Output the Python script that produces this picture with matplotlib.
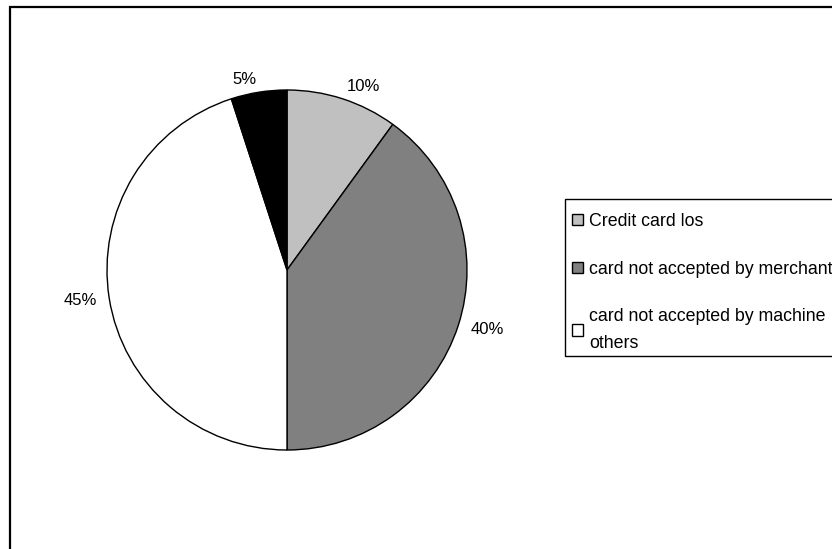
import matplotlib.pyplot as plt
from matplotlib.patches import Rectangle

plt.rcParams['font.family'] = ['Liberation Sans', 'DejaVu Sans']

# share of complaints
labels = ['Credit card los', 'card not accepted by merchant',
          'card not accepted by machine\nothers', '']
shares = [10, 40, 45, 5]
colors = ['#c0c0c0', '#808080', '#ffffff', '#000000']

W, H = 832, 549
fig = plt.figure(figsize=(W / 100, H / 100), dpi=100)

# outer chart border (runs off right/bottom edge)
fig.patches.append(Rectangle((10/W, -0.05), 1.0, 1 - 7/H + 0.05,
                             transform=fig.transFigure, fill=False,
                             edgecolor='black', linewidth=1.6))

ax = fig.add_axes([(287-180)/W, (H-270-180)/H, 360/W, 360/H])
wedges, texts, autotexts = ax.pie(
    shares, colors=colors, startangle=90, counterclock=False,
    autopct='%d%%', pctdistance=1.07, radius=1,
    wedgeprops=dict(edgecolor='black', linewidth=1.0),
    textprops=dict(fontsize=12, color='black'))
# push labels outward: left side right-aligned, right side left-aligned
for t in autotexts:
    x, y = t.get_position()
    t.set_ha('left' if x > 0 else 'right')
    t.set_va('center')
ax.set_xlim(-1, 1)
ax.set_ylim(-1, 1)
ax.set_aspect('equal')

# legend box, also running off the right edge
fig.patches.append(Rectangle((565/W, 1 - 356/H), 0.5, (356-199)/H,
                             transform=fig.transFigure, facecolor='white',
                             edgecolor='black', linewidth=1.0, zorder=0))
leg = fig.legend(wedges[:3], labels[:3], loc='upper left',
                 bbox_to_anchor=(572/W, 1 - 213/H),
                 fontsize=12.8, frameon=False,
                 handlelength=0.6, handleheight=0.6, handletextpad=0.35,
                 labelspacing=1.72, borderpad=0, borderaxespad=0)
leg.get_texts()[2].set_linespacing(1.72)

fig.savefig('out.png', dpi=100)
